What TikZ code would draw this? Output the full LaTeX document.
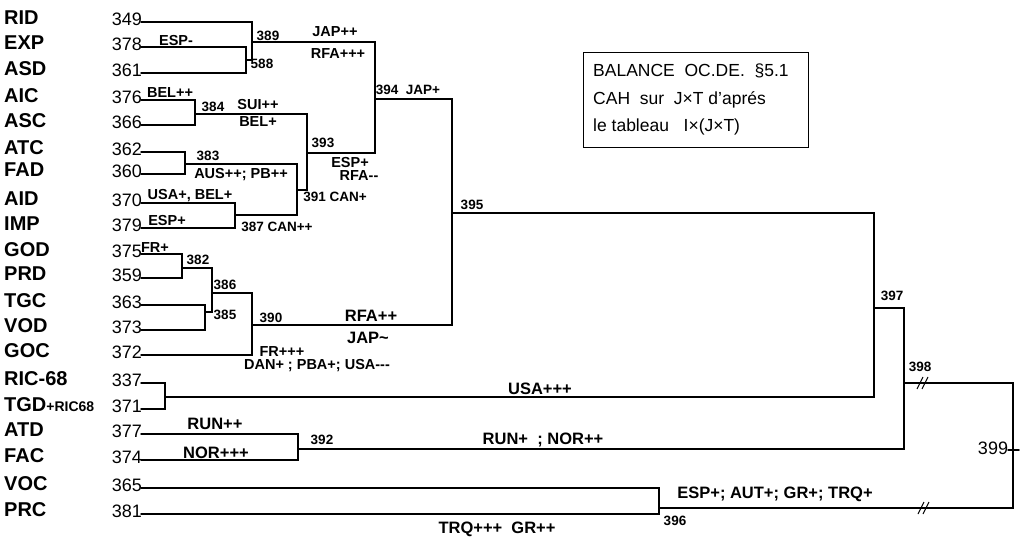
\documentclass[tikz,border=0pt]{standalone}
\usepackage{fontspec}
\setmainfont[Ligatures=NoCommon]{Liberation Sans}
\begin{document}
\begin{tikzpicture}[x=1pt,y=-1pt,
  link/.style={line width=1.5pt, line cap=round, line join=miter},
  leafname/.style={anchor=west, inner sep=0pt, font=\fontsize{20}{20}\selectfont\bfseries},
  leafnum/.style={anchor=east, inner sep=0pt, font=\fontsize{18}{18}\selectfont},
  lab/.style={inner sep=0pt, font=\fontsize{14.5}{15}\selectfont\bfseries},
  biglab/.style={inner sep=0pt, font=\fontsize{16.5}{17}\selectfont\bfseries},
  cnum/.style={inner sep=0pt, font=\fontsize{13.5}{14}\selectfont\bfseries},
  brk/.pic={\draw[line width=1pt] (-5,6) -- (1,-6) (0,6) -- (6,-6);}
]
\useasboundingbox (0,0) rectangle (1022,546);

% leaves
\foreach \i/\nm/\nu/\yy in {
  0/RID/349/22, 1/EXP/378/47, 2/ASD/361/73, 3/AIC/376/100, 4/ASC/366/125,
  5/ATC/362/152, 6/FAD/360/174, 7/AID/370/203, 8/IMP/379/228, 9/GOD/375/254,
  10/PRD/359/278, 11/TGC/363/305, 12/VOD/373/330, 13/GOC/372/355,
  14/RIC-68/337/383, 15/{TGD{\fontsize{14}{14}\selectfont +RIC68}}/371/409,
  16/ATD/377/434, 17/FAC/374/460, 18/VOC/365/488, 19/PRC/381/514} {
  \node[leafname] (name\i) at (4,\yy-4) {\nm};
  \node[leafnum] (num\i) at (142,\yy-3) {\nu};
  \coordinate (s\i) at (141,\yy);
}

% cluster points (x of the join, y of the output)
\coordinate (k388) at (246,60);
\coordinate (k389) at (252,42);
\coordinate (k384) at (195,114);
\coordinate (k383) at (185,164);
\coordinate (k387) at (235,215);
\coordinate (k391) at (297,190);
\coordinate (k393) at (307,153);
\coordinate (k394) at (375,99);
\coordinate (k382) at (182,268);
\coordinate (k385) at (205,312);
\coordinate (k386) at (212,293);
\coordinate (k390) at (252,325);
\coordinate (k395) at (452,213);
\coordinate (kric) at (165,397);
\coordinate (k397) at (874,308);
\coordinate (k392) at (298,449);
\coordinate (k398) at (904,383);
\coordinate (k396) at (659,508);
\coordinate (k399) at (1013,450);
\coordinate (stubl) at (1008,450);
\coordinate (stubr) at (1019,450);

\foreach \a/\b in {s1/k388, s2/k388, s0/k389, k388/k389,
  s3/k384, s4/k384, s5/k383, s6/k383, s7/k387, s8/k387,
  k383/k391, k387/k391, k384/k393, k391/k393, k389/k394, k393/k394,
  s9/k382, s10/k382, s11/k385, s12/k385, k382/k386, k385/k386,
  k386/k390, s13/k390, k394/k395, k390/k395,
  s14/kric, s15/kric, k395/k397, kric/k397,
  s16/k392, s17/k392, k397/k398, k392/k398,
  s18/k396, s19/k396, k398/k399, k396/k399}
  \draw[link] (\a) -| (\b);
\draw[link] (stubl) -- (stubr);

% break marks
\pic at (922,383) {brk};
\pic at (923,508) {brk};

% cluster numbers
\node[cnum] (n389) at (268,36) {389};
\node[cnum] (n388) at (262,64) {588};
\node[cnum] (n384) at (213,107) {384};
\node[cnum] (n383) at (208,156) {383};
\node[cnum] (n387) at (277,227) {387 CAN++};
\node[cnum] (n391) at (335,197) {391 CAN+};
\node[cnum] (n393) at (323,143) {393};
\node[cnum] (n394) at (408,90) {394\ \ JAP+};
\node[cnum] (n382) at (198,260) {382};
\node[cnum] (n386) at (225,285) {386};
\node[cnum] (n385) at (225,315) {385};
\node[cnum] (n390) at (271,318) {390};
\node[cnum] (n395) at (472,205) {395};
\node[cnum] (n397) at (892,296) {397};
\node[cnum] (n398) at (920,367) {398};
\node[cnum] (n392) at (322,440) {392};
\node[cnum] (n396) at (675,521) {396};
\node[leafnum,anchor=center] (n399) at (993,448) {399};

% annotations
\node[lab] (a1) at (176,41) {ESP{-}};
\node[lab] (a2) at (335,32) {JAP++};
\node[lab] (a3) at (338,54) {RFA+++};
\node[lab] (a4) at (170,93) {BEL++};
\node[lab] (a5) at (258,105) {SUI++};
\node[lab] (a6) at (258,122) {BEL+};
\node[lab] (a7) at (241,175) {AUS++; PB++};
\node[lab] (a8) at (190,196) {USA+, BEL+};
\node[lab] (a9) at (167,221) {ESP+};
\node[lab] (a10) at (350,163) {ESP+};
\node[lab] (a11) at (359,176) {RFA{-}{-}};
\node[lab] (a12) at (155,248) {FR+};
\node[biglab] (a13) at (371,316) {RFA++};
\node[biglab] (a14) at (368,338) {JAP\textasciitilde};
\node[lab] (a15) at (282,352) {FR+++};
\node[lab] (a16) at (317,366) {DAN+ ; PBA+; USA{-}{-}{-}};
\node[biglab] (a17) at (540,389) {USA+++};
\node[biglab] (a18) at (215,424) {RUN++};
\node[biglab] (a19) at (216,453) {NOR+++};
\node[biglab] (a20) at (543,440) {RUN+ \ ; NOR++};
\node[biglab] (a21) at (775,494) {ESP+; AUT+; GR+; TRQ+};
\node[biglab] (a22) at (497,529) {TRQ+++ \ GR++};

% title box
\node[draw, line width=1.2pt, minimum width=225pt, minimum height=95pt, anchor=north west, inner sep=0pt] (title) at (583,52) {};
\node[anchor=west, inner sep=0pt, font=\fontsize{17.5}{18}\selectfont] (t1) at (593,71) {BALANCE \ OC.DE. \ §5.1};
\node[anchor=west, inner sep=0pt, font=\fontsize{17.5}{18}\selectfont] (t2) at (593,100) {CAH \ sur \ J×T d'aprés};
\node[anchor=west, inner sep=0pt, font=\fontsize{17.5}{18}\selectfont] (t3) at (593,127) {le tableau \ \ I×(J×T)};
\end{tikzpicture}
\end{document}
